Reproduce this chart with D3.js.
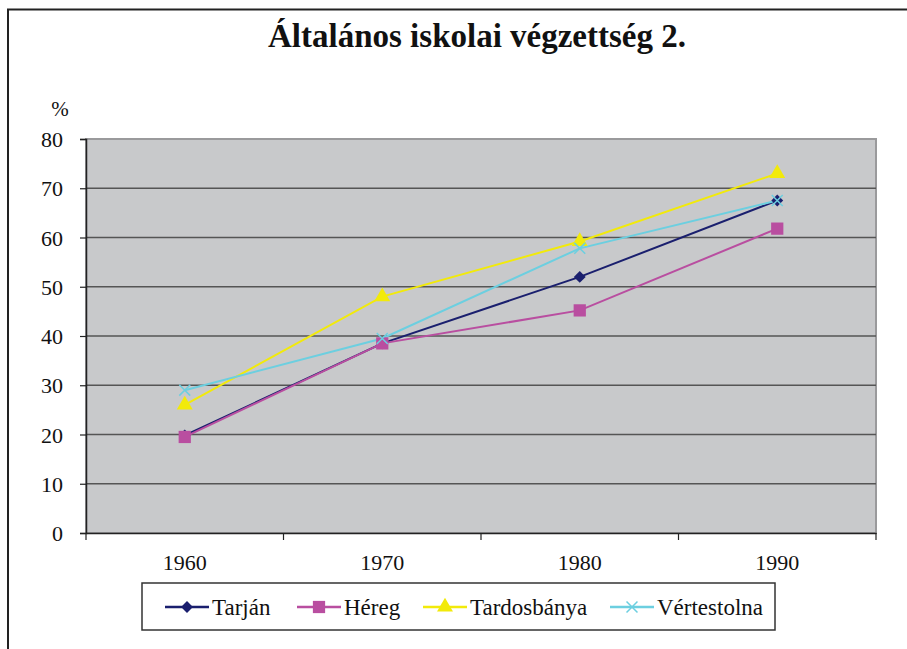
<!DOCTYPE html>
<html>
<head>
<meta charset="utf-8">
<script src="https://cdn.jsdelivr.net/npm/d3@7"></script>
<style>
  body { margin: 0; background: #fff; }
</style>
</head>
<body>
<div id="chart"></div>
<script>
(function(){

var years = ["1960", "1970", "1980", "1990"];
var yTicks = [0, 10, 20, 30, 40, 50, 60, 70, 80];
var tarjan = [19.8, 38.5, 52.0, 67.5];
var hereg = [19.5, 38.5, 45.2, 61.8];
var tardosbanya = [26.0, 48.0, 59.2, 73.0];
var vertestolna = [29.0, 39.5, 57.8, 67.5];

var FONT = "'Liberation Serif', 'DejaVu Serif', serif";

var series = [
  {name: "Tarján", values: tarjan, color: "#1a1f6e", symbol: d3.symbolDiamond2, size: 90},
  {name: "Héreg", values: hereg, color: "#b94ea0", symbol: d3.symbolSquare, size: 150},
  {name: "Tardosbánya", values: tardosbanya, color: "#f2ea0a", symbol: d3.symbolTriangle, size: 110},
  {name: "Vértestolna", values: vertestolna, color: "#6ccfe0", symbol: d3.symbolX, size: 80}
];

var W = 907, H = 649;
var margin = {top: 139, right: 31, bottom: 116, left: 86},
    width = W - margin.left - margin.right,
    height = H - margin.top - margin.bottom;

var root = d3.select("#chart")
  .append("svg")
    .attr("width", W)
    .attr("height", H)
    .style("font-family", FONT);

// outer frame (left + top only visible)
root.append("path")
    .attr("d", "M8,649 V9.5 H907")
    .attr("fill", "none")
    .attr("stroke", "#222")
    .attr("stroke-width", 2);

root.append("text")
    .attr("x", 477)
    .attr("y", 47)
    .attr("text-anchor", "middle")
    .style("font-family", FONT)
    .style("font-size", "33px")
    .style("font-weight", "bold")
    .attr("fill", "#111")
    .text("Általános iskolai végzettség 2.");

root.append("text")
    .attr("x", 60)
    .attr("y", 116)
    .attr("text-anchor", "middle")
    .style("font-family", FONT)
    .style("font-size", "21px")
    .attr("fill", "#111")
    .text("%");

var svg = root.append("g")
    .attr("transform", "translate(" + margin.left + "," + margin.top + ")");

var x = d3.scaleBand().domain(years).range([0, width]);
var y = d3.scaleLinear().domain([0, 80]).range([height, 0]);

svg.append("rect")
    .attr("width", width)
    .attr("height", height)
    .attr("fill", "#c8c9cb")
    .attr("stroke", "#9a9a9c")
    .attr("stroke-width", 2);

// gridlines
svg.selectAll(".grid")
    .data(yTicks.filter(function(d) { return d > 0 && d < 80; }))
  .enter().append("line")
    .attr("x1", 0).attr("x2", width)
    .attr("y1", function(d) { return y(d); })
    .attr("y2", function(d) { return y(d); })
    .attr("stroke", "#555")
    .attr("stroke-width", 1.5);

// y axis
var yAxis = svg.append("g")
    .call(d3.axisLeft(y).tickValues(yTicks).tickSize(6).tickPadding(17));
yAxis.attr("font-family", null).attr("font-size", null);
yAxis.select(".domain").attr("stroke", "#222").attr("stroke-width", 1.5);
yAxis.selectAll(".tick line").attr("stroke", "#222").attr("stroke-width", 1.2);
yAxis.selectAll("text")
    .style("font-family", FONT)
    .style("font-size", "22px")
    .attr("dy", "0.35em")
    .attr("fill", "#111");

// x axis: ticks at band boundaries
var xAxis = svg.append("g")
    .attr("transform", "translate(0," + height + ")")
    .call(d3.axisBottom(x).tickSize(0).tickPadding(21));
xAxis.attr("font-family", null).attr("font-size", null);
xAxis.select(".domain").attr("stroke", "#222").attr("stroke-width", 1.5);
xAxis.selectAll("text")
    .style("font-family", FONT)
    .style("font-size", "22px")
    .attr("fill", "#111");
svg.append("g")
    .attr("transform", "translate(0," + height + ")")
  .selectAll("line")
    .data(years.concat(["end"]))
  .enter().append("line")
    .attr("x1", function(d, i) { return i * x.step(); })
    .attr("x2", function(d, i) { return i * x.step(); })
    .attr("y1", 0).attr("y2", 7)
    .attr("stroke", "#222")
    .attr("stroke-width", 1.2);

var cx = function(d, i) { return x(years[i]) + x.bandwidth() / 2; };
var line = d3.line()
    .x(cx)
    .y(function(d) { return y(d); });

series.forEach(function(s) {
  svg.append("path")
      .datum(s.values)
      .attr("fill", "none")
      .attr("stroke", s.color)
      .attr("stroke-width", 2)
      .attr("d", line);
});

series.forEach(function(s) {
  var isX = s.symbol === d3.symbolX;
  svg.selectAll(null)
      .data(s.values)
    .enter().append("path")
      .attr("transform", function(d, i) { return "translate(" + cx(d, i) + "," + y(d) + ")"; })
      .attr("d", d3.symbol().type(s.symbol).size(s.size))
      .attr("fill", isX ? "none" : s.color)
      .attr("stroke", isX ? s.color : "none")
      .attr("stroke-width", 1.5);
});

// legend
var lg = root.append("g").attr("transform", "translate(142,583)");
lg.append("rect")
    .attr("width", 633)
    .attr("height", 47)
    .attr("fill", "#fff")
    .attr("stroke", "#333")
    .attr("stroke-width", 1.5);

var legendX = [23, 155, 281, 468];
series.forEach(function(s, i) {
  var g = lg.append("g").attr("transform", "translate(" + legendX[i] + ",24)");
  var isX = s.symbol === d3.symbolX;
  g.append("line")
      .attr("x1", 0).attr("x2", 44)
      .attr("stroke", s.color)
      .attr("stroke-width", 2.5);
  g.append("path")
      .attr("transform", "translate(22,0)")
      .attr("d", d3.symbol().type(s.symbol).size(s.size))
      .attr("fill", isX ? "none" : s.color)
      .attr("stroke", isX ? s.color : "none")
      .attr("stroke-width", 1.5);
  g.append("text")
      .attr("x", 47)
      .attr("y", 8)
      .style("font-family", FONT)
      .style("font-size", "23px")
      .attr("fill", "#111")
      .text(s.name);
});

})();
</script>
</body>
</html>
